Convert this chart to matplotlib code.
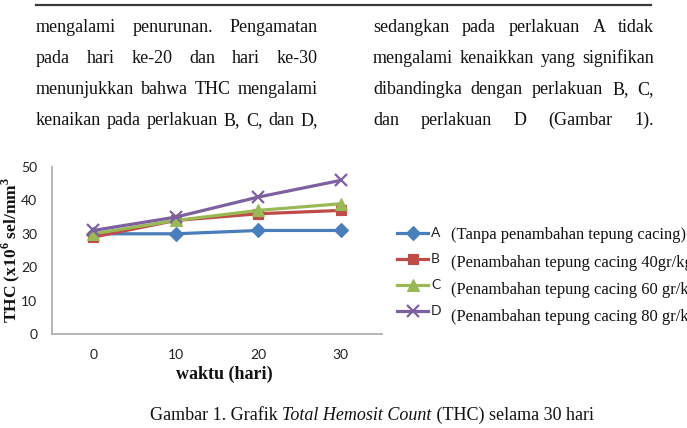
import matplotlib
matplotlib.use('Agg')
import matplotlib.pyplot as plt
from matplotlib.lines import Line2D

W, H = 687, 428

days = [0, 10, 20, 30]
series_names = ['A', 'B', 'C', 'D']
thc_A = [30, 30, 31, 31]
thc_B = [29, 34, 36, 37]
thc_C = [30, 34, 37, 39]
thc_D = [31, 35, 41, 46]
yticks = [0, 10, 20, 30, 40, 50]
legend_desc = ['(Tanpa penambahan tepung cacing)',
               '(Penambahan tepung cacing 40gr/kg)',
               '(Penambahan tepung cacing 60 gr/kg)',
               '(Penambahan tepung cacing 80 gr/kg)']
left_lines = ['mengalami penurunan. Pengamatan',
              'pada hari ke-20 dan hari ke-30',
              'menunjukkan bahwa THC mengalami',
              'kenaikan pada perlakuan B, C, dan D,']
right_lines = ['sedangkan pada perlakuan A tidak',
               'mengalami kenaikkan yang signifikan',
               'dibandingka dengan perlakuan B, C,',
               'dan perlakuan D (Gambar 1).']
caption_parts = [('Gambar 1. Grafik ', 'normal'),
                 ('Total Hemosit Count', 'italic'),
                 (' (THC) selama 30 hari', 'normal')]

colors = ['#4A7EBB', '#BE4B48', '#98B954', '#7D60A0']
markers = ['D', 's', '^', 'x']
msizes = [7, 7, 8.5, 8.5]

SERIF = 'Liberation Serif'
SANS = 'Lato'
plt.rcParams['mathtext.fontset'] = 'custom'
plt.rcParams['mathtext.rm'] = SERIF
plt.rcParams['mathtext.bf'] = SERIF + ':bold'

fig = plt.figure(figsize=(W / 100, H / 100), dpi=100)
renderer = fig.canvas.get_renderer()


def fx(x):
    return x / W


def fy(y):
    return 1 - y / H


# top rule
fig.add_artist(Line2D([fx(36), fx(651)], [fy(5), fy(5)], color='#3a3a3a', lw=1.6))

BODY_FS = 13


def justify(line, x0, x1, ybase, fs=BODY_FS):
    words = line.split()
    texts = [fig.text(0, 0, w, fontsize=fs, family=SERIF, color='#111111', va='baseline')
             for w in words]
    widths = [t.get_window_extent(renderer).width for t in texts]
    gap = (x1 - x0 - sum(widths)) / max(len(words) - 1, 1)
    x = x0
    for t, w in zip(texts, widths):
        t.set_position((fx(x), fy(ybase)))
        x += w + gap


baselines = [32, 63, 94, 125]
for line, yb in zip(left_lines, baselines):
    justify(line, 36, 318, yb)
for line, yb in zip(right_lines, baselines):
    justify(line, 373, 654, yb)

# chart axes
ax = fig.add_axes([fx(52), fy(334), 330 / W, 167 / H])
for vals, c, m, ms in zip([thc_A, thc_B, thc_C, thc_D], colors, markers, msizes):
    ax.plot(days, vals, color=c, lw=2.3, marker=m, markersize=ms,
            markeredgewidth=1.6 if m == 'x' else 0.8, markeredgecolor=c,
            markerfacecolor=c, clip_on=False, zorder=3)
ax.set_xlim(-5, 35)
ax.set_ylim(0, 50)
ax.set_xticks(days)
ax.set_xticklabels([str(d) for d in days])
ax.set_yticks(yticks)
ax.set_yticklabels([str(v) for v in yticks])
for s in ['top', 'right']:
    ax.spines[s].set_visible(False)
for s in ['left', 'bottom']:
    ax.spines[s].set_color('#B0B0B0')
    ax.spines[s].set_linewidth(1.3)
ax.tick_params(length=0, labelsize=10, labelcolor='#222222', pad=10.5)
for lab in ax.get_xticklabels() + ax.get_yticklabels():
    lab.set_family(SANS)
ax.patch.set_alpha(0)

# axis titles
fig.text(fx(10.5), fy(250), r'THC (x10$^{\mathbf{6}}$ sel/mm$^{\mathbf{3}}$', rotation=90,
         ha='center', va='center', fontsize=12.5, family=SERIF, fontweight='bold',
         color='#111111')
fig.text(fx(224), fy(374), 'waktu (hari)', ha='center', va='center', fontsize=13,
         family=SERIF, fontweight='bold', color='#111111')

# legend
leg_rows = [233, 259, 285, 311]
desc_rows = [235, 263, 290, 317]
for name, c, m, ms, yr, desc, yd in zip(series_names, colors, markers, msizes, leg_rows,
                                        legend_desc, desc_rows):
    fig.add_artist(Line2D([fx(397), fx(428)], [fy(yr), fy(yr)], color=c, lw=2.3))
    fig.add_artist(Line2D([fx(412.5)], [fy(yr)], color=c, marker=m, markersize=ms,
                          markeredgewidth=1.6 if m == 'x' else 0.8,
                          markerfacecolor=c, markeredgecolor=c))
    fig.text(fx(431), fy(yr), name, ha='left', va='center', fontsize=10, family=SANS,
             color='#222222')
    fig.text(fx(451), fy(yd), desc, ha='left', va='center', fontsize=11.9,
             family=SERIF, color='#111111')

# caption with italic part
cap_texts = [fig.text(0, 0, s, fontsize=BODY_FS, family=SERIF, style=st, color='#111111',
                      va='center') for s, st in caption_parts]
cw = [t.get_window_extent(renderer).width for t in cap_texts]
x = 372 - sum(cw) / 2
for t, w in zip(cap_texts, cw):
    t.set_position((fx(x), fy(415)))
    x += w

fig.savefig('out.png', dpi=100)
